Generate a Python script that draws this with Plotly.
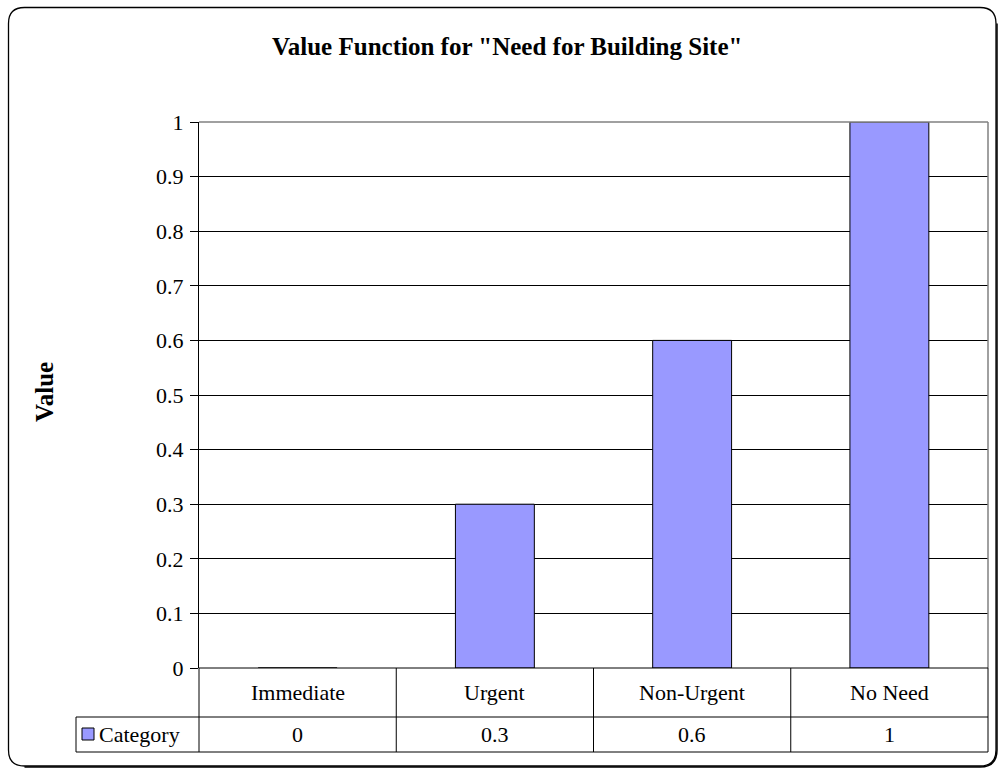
import plotly.graph_objects as go

categories = ["Immediate", "Urgent", "Non-Urgent", "No Need"]
values = [0, 0.3, 0.6, 1]
value_labels = ["0", "0.3", "0.6", "1"]
y_ticks = [0, 0.1, 0.2, 0.3, 0.4, 0.5, 0.6, 0.7, 0.8, 0.9, 1]
y_tick_labels = ["0", "0.1", "0.2", "0.3", "0.4", "0.5", "0.6", "0.7", "0.8", "0.9", "1"]
series_name = "Category"
title = 'Value Function for "Need for Building Site"'
y_title = "Value"

W, H = 999, 770
FONT = "Liberation Serif, Times New Roman, serif"
BAR = "#9999FF"
FS = 22
FS_B = 25

def px(x):
    return x / W

def py(y):
    return 1 - y / H

xi = list(range(len(categories)))

fig = go.Figure()
fig.add_trace(go.Bar(
    x=xi, y=values, width=0.4, name=series_name,
    marker=dict(color=BAR, line=dict(color="black", width=1)),
    showlegend=False,
))

plot_l, plot_r, plot_t, plot_b = 199, 988, 122, 668
row1_b, row2_b, tbl_l = 717, 752, 76

shapes = []
# outer rounded border
x0, y0, x1, y1, r = 8.5, 7.5, 996, 766, 16
path = (f"M {px(x0+r)},{py(y0)} L {px(x1-r)},{py(y0)} "
        f"Q {px(x1)},{py(y0)} {px(x1)},{py(y0+r)} "
        f"L {px(x1)},{py(y1-r)} Q {px(x1)},{py(y1)} {px(x1-r)},{py(y1)} "
        f"L {px(x0+r)},{py(y1)} Q {px(x0)},{py(y1)} {px(x0)},{py(y1-r)} "
        f"L {px(x0)},{py(y0+r)} Q {px(x0)},{py(y0)} {px(x0+r)},{py(y0)} Z")
shapes.append(dict(type="path", path=path, xref="paper", yref="paper",
                   line=dict(color="black", width=1.3)))
# shadow on bottom/right edges
spath = (f"M {px(x1+1)},{py(y0+r)} L {px(x1+1)},{py(y1-r)} "
         f"Q {px(x1+1)},{py(y1+1)} {px(x1-r)},{py(y1+1)} L {px(x0+r)},{py(y1+1)}")
shapes.append(dict(type="path", path=spath, xref="paper", yref="paper",
                   line=dict(color="black", width=1.5)))
# plot area border top/right (gray)
shapes.append(dict(type="line", xref="paper", yref="paper", x0=px(plot_l), x1=px(plot_r),
                   y0=py(plot_t), y1=py(plot_t), line=dict(color="#808080", width=1.5)))
shapes.append(dict(type="line", xref="paper", yref="paper", x0=px(plot_r), x1=px(plot_r),
                   y0=py(plot_t), y1=py(plot_b), line=dict(color="#808080", width=1.5)))
# data table lines
def hline(y, xa, xb, w=1):
    shapes.append(dict(type="line", xref="paper", yref="paper", x0=px(xa), x1=px(xb),
                       y0=py(y), y1=py(y), line=dict(color="black", width=w)))
def vline(x, ya, yb, w=1):
    shapes.append(dict(type="line", xref="paper", yref="paper", x0=px(x), x1=px(x),
                       y0=py(ya), y1=py(yb), line=dict(color="black", width=w)))
hline(plot_b, plot_l, plot_r)
hline(row1_b, tbl_l, plot_r)
hline(row2_b, tbl_l, plot_r)
vline(tbl_l, row1_b, row2_b)
vline(plot_l, plot_b, row2_b)
vline(plot_r, plot_b, row2_b)
for i in range(1, len(categories)):
    xb = plot_l + (plot_r - plot_l) * i / len(categories)
    vline(xb, plot_b, row2_b)
# legend swatch
shapes.append(dict(type="rect", xref="paper", yref="paper", x0=px(82), x1=px(94),
                   y0=py(728), y1=py(740), fillcolor=BAR, line=dict(color="black", width=1)))

annotations = []
for i, (c, v) in enumerate(zip(categories, value_labels)):
    annotations.append(dict(x=i, y=py((plot_b + row1_b) / 2), xref="x", yref="paper",
                            xanchor="center", yanchor="middle",
                            text=c, showarrow=False, font=dict(family=FONT, size=FS, color="black")))
    annotations.append(dict(x=i, y=py((row1_b + row2_b) / 2), xref="x", yref="paper",
                            xanchor="center", yanchor="middle",
                            text=v, showarrow=False, font=dict(family=FONT, size=FS, color="black")))
annotations.append(dict(x=px(97), y=py((row1_b + row2_b) / 2), xref="paper", yref="paper",
                        text=series_name, showarrow=False, xanchor="left", yanchor="middle",
                        font=dict(family=FONT, size=FS, color="black")))
annotations.append(dict(x=px(507), y=py(47), xref="paper", yref="paper", text=f"<b>{title}</b>",
                        xanchor="center", yanchor="middle",
                        showarrow=False, font=dict(family=FONT, size=FS_B, color="black")))
annotations.append(dict(x=px(45), y=py(392), xref="paper", yref="paper", text=f"<b>{y_title}</b>",
                        xanchor="center", yanchor="middle",
                        showarrow=False, textangle=-90, font=dict(family=FONT, size=FS_B, color="black")))

fig.update_layout(
    width=W, height=H, margin=dict(l=0, r=0, t=0, b=0, pad=0, autoexpand=False),
    paper_bgcolor="white", plot_bgcolor="white",
    font=dict(family=FONT, size=FS, color="black"),
    shapes=shapes, annotations=annotations,
    xaxis=dict(domain=[px(plot_l), px(plot_r)], range=[-0.5, len(categories) - 0.5],
               showticklabels=False, ticks="", showgrid=False, zeroline=False,
               showline=False, fixedrange=True, automargin=False),
    yaxis=dict(domain=[py(plot_b), py(plot_t)], range=[0, 1], tickvals=y_ticks,
               ticktext=y_tick_labels, ticks="outside", ticklen=8, tickcolor="black",
               ticklabelstandoff=2,
               showline=True, linecolor="black", linewidth=1, automargin=False,
               showgrid=True, gridcolor="black", gridwidth=1, zeroline=False,
               tickfont=dict(family=FONT, size=FS, color="black"), fixedrange=True),
)

fig.write_html(
    "out.html",
    config={"displayModeBar": False},
    post_script="document.body.style.margin='0';document.documentElement.style.overflow='hidden';document.body.style.overflow='hidden';",
)
